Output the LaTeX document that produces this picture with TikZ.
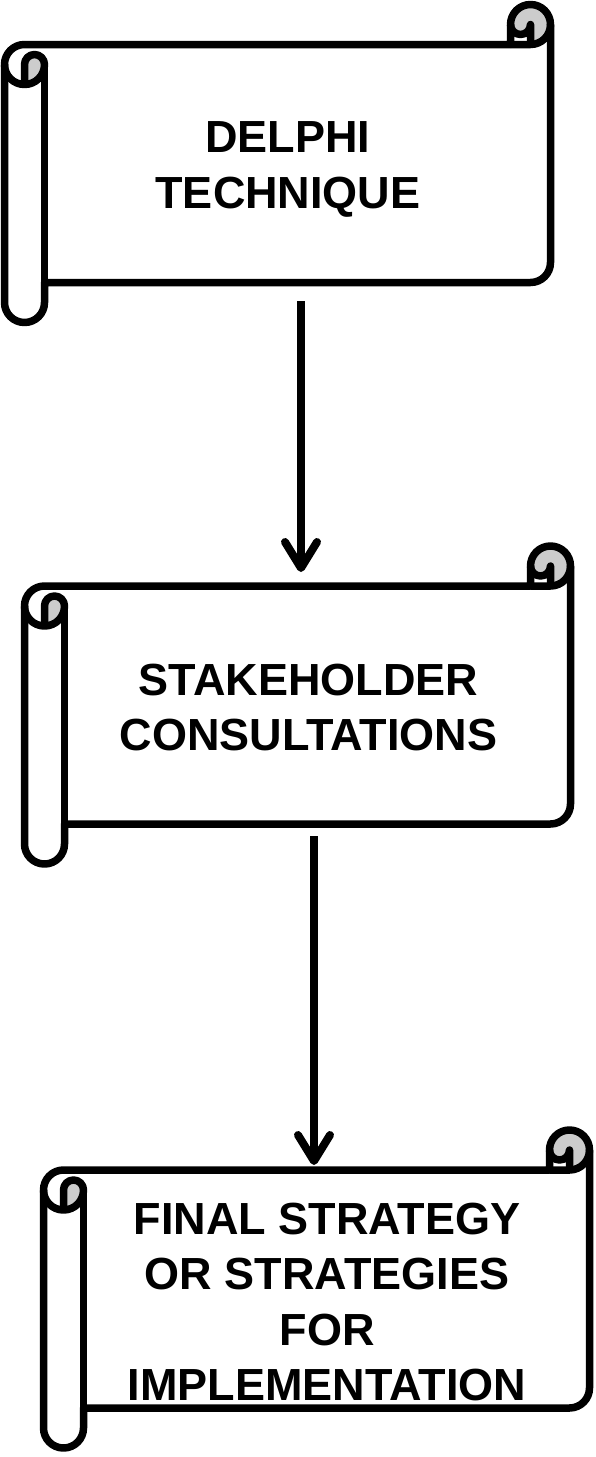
\documentclass[tikz,border=0pt]{standalone}
\usepackage{fontspec}
\setmainfont{Liberation Sans}
\usepackage{tikz}
\usetikzlibrary{arrows.meta}

\begin{document}
\begin{tikzpicture}[x=1pt, y=1pt, line width=7.5pt, line join=round,
    scrolltext/.style={font=\fontsize{45}{55.5}\selectfont\bfseries, align=center, anchor=north, inner sep=0pt},
    flow/.style={line width=8pt, -{Straight Barb[length=26pt, width=32pt, round]}},
    curl/.style={fill=black!20, draw=none}]
    \useasboundingbox (0, 0) rectangle (596, -1457);

    % draw first scroll
    \begin{scope}[shift={(4.5, -4.5)}]
    \fill[curl] (20, -80) arc[start angle=-90, delta angle=90, radius=20] arc[start angle=0, delta angle=180, radius=10] -- cycle;
    \fill[curl] (526, -40) arc[start angle=-90, delta angle=270, radius=20] arc[start angle=180, delta angle=180, radius=10] -- cycle;
    \draw (0, -60) arc[start angle=180, delta angle=-90, radius=20] -- (506, -40) -- (506, -20)
        arc[start angle=180, delta angle=-180, radius=20] -- (546, -258)
        arc[start angle=0, delta angle=-90, radius=20] -- (40, -278) -- (40, -298)
        arc[start angle=0, delta angle=-180, radius=20] -- cycle;
    \draw (506, -40) -- (526, -40) arc[start angle=-90, delta angle=90, radius=20];
    \draw (526, -40) -- (526, -20) arc[start angle=0, delta angle=-180, radius=10];
    \draw (20, -80) -- (20, -60) arc[start angle=180, delta angle=-180, radius=10] arc[start angle=0, delta angle=-180, radius=20];
    \draw (40, -60) -- (40, -278);
    \end{scope}

    % draw second scroll
    \begin{scope}[shift={(24.5, -546)}]
    \fill[curl] (20, -80) arc[start angle=-90, delta angle=90, radius=20] arc[start angle=0, delta angle=180, radius=10] -- cycle;
    \fill[curl] (526, -40) arc[start angle=-90, delta angle=270, radius=20] arc[start angle=180, delta angle=180, radius=10] -- cycle;
    \draw (0, -60) arc[start angle=180, delta angle=-90, radius=20] -- (506, -40) -- (506, -20)
        arc[start angle=180, delta angle=-180, radius=20] -- (546, -258)
        arc[start angle=0, delta angle=-90, radius=20] -- (40, -278) -- (40, -298)
        arc[start angle=0, delta angle=-180, radius=20] -- cycle;
    \draw (506, -40) -- (526, -40) arc[start angle=-90, delta angle=90, radius=20];
    \draw (526, -40) -- (526, -20) arc[start angle=0, delta angle=-180, radius=10];
    \draw (20, -80) -- (20, -60) arc[start angle=180, delta angle=-180, radius=10] arc[start angle=0, delta angle=-180, radius=20];
    \draw (40, -60) -- (40, -278);
    \end{scope}

    % draw third scroll
    \begin{scope}[shift={(43.5, -1130)}]
    \fill[curl] (20, -80) arc[start angle=-90, delta angle=90, radius=20] arc[start angle=0, delta angle=180, radius=10] -- cycle;
    \fill[curl] (526, -40) arc[start angle=-90, delta angle=270, radius=20] arc[start angle=180, delta angle=180, radius=10] -- cycle;
    \draw (0, -60) arc[start angle=180, delta angle=-90, radius=20] -- (506, -40) -- (506, -20)
        arc[start angle=180, delta angle=-180, radius=20] -- (546, -258)
        arc[start angle=0, delta angle=-90, radius=20] -- (40, -278) -- (40, -298)
        arc[start angle=0, delta angle=-180, radius=20] -- cycle;
    \draw (506, -40) -- (526, -40) arc[start angle=-90, delta angle=90, radius=20];
    \draw (526, -40) -- (526, -20) arc[start angle=0, delta angle=-180, radius=10];
    \draw (20, -80) -- (20, -60) arc[start angle=180, delta angle=-180, radius=10] arc[start angle=0, delta angle=-180, radius=20];
    \draw (40, -60) -- (40, -278);
    \end{scope}

    % texts
    \node[scrolltext] (delphi) at (288, -118) {DELPHI\\TECHNIQUE};
    \node[scrolltext] (stake) at (308.5, -660) {STAKEHOLDER\\CONSULTATIONS};
    \node[scrolltext] (final) at (327, -1199) {FINAL STRATEGY\\OR STRATEGIES\\FOR\\IMPLEMENTATION};

    % draw arrows
    \coordinate (a1) at (301, -301);
    \coordinate (b1) at (301, -572);
    \coordinate (a2) at (314, -836);
    \coordinate (b2) at (314, -1165);
    \draw[flow] (a1) -- (b1);
    \draw[flow] (a2) -- (b2);
\end{tikzpicture}
\end{document}
